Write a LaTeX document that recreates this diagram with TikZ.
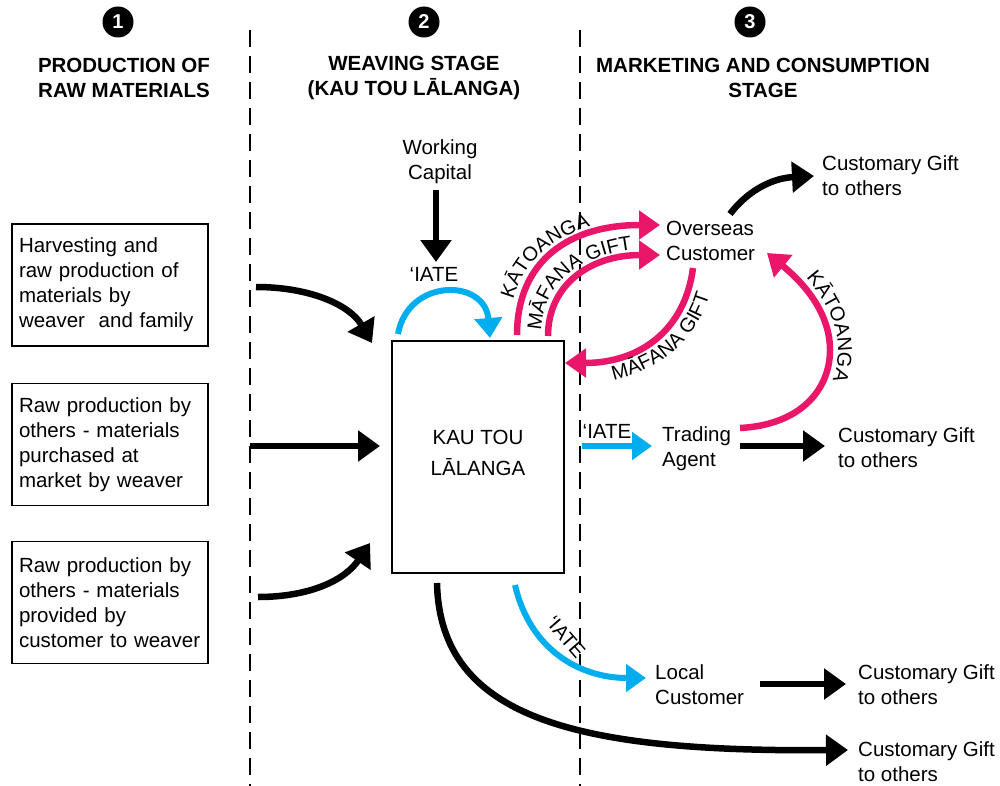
\documentclass[tikz,border=0pt]{standalone}
\usepackage{fontspec}
\setmainfont{Liberation Sans}
\usetikzlibrary{arrows.meta,decorations.text}
\definecolor{pinkc}{RGB}{233,22,106}
\definecolor{bluec}{RGB}{0,174,239}
\newcommand\lblfont{\fontsize{20}{20}\selectfont}
\begin{document}
\begin{tikzpicture}[x=1pt,y=-1pt,
  txt/.style={inner sep=0pt, font=\fontsize{20.5}{25}\selectfont, align=left},
  hdr/.style={inner sep=0pt, font=\bfseries\fontsize{20.5}{25}\selectfont, align=center},
  num/.style={circle, fill=black, minimum size=31pt, inner sep=0pt, text=white, font=\bfseries\fontsize{20}{20}\selectfont},
  srcbox/.style={draw, line width=1.2pt, minimum width=196pt, minimum height=122pt, text width=182pt, inner xsep=7pt, font=\fontsize{20.5}{25}\selectfont, align=left},
  blk/.style={line width=6.5pt, -{Triangle[length=22pt,width=30pt]}},
  blu/.style={draw=bluec, line width=6pt, -{Triangle[length=20pt,width=27pt]}},
  pnk/.style={draw=pinkc, line width=6.5pt, -{Triangle[length=21pt,width=28pt]}},
  sepline/.style={line width=1.5pt, dash pattern=on 17pt off 9pt},
  alongtxt/.style={decorate, decoration={text along path, text={|\lblfont|#1}}},
]
\useasboundingbox (0,0) rectangle (1000,786);

% separators
\draw[sepline] (250,30) -- (250,786);
\draw[sepline] (580,30) -- (580,786);

% stage numbers and headers
\node[num] (n1) at (118,22) {1};
\node[num] (n2) at (424,22) {2};
\node[num] (n3) at (750,22) {3};
\node[hdr] (h1) at (124,78) {PRODUCTION OF\\RAW MATERIALS};
\node[hdr] (h2) at (414,78) {WEAVING STAGE\\(KAU TOU LĀLANGA)};
\node[hdr] (h3) at (763,78) {MARKETING AND CONSUMPTION\\STAGE};

% source boxes
\node[srcbox] (b1) at (110,285) {Harvesting and\\raw production of\\materials by\\weaver~ and family};
\node[srcbox] (b2) at (110,444.5) {Raw production by\\others - materials\\purchased at\\market by weaver};
\node[srcbox] (b3) at (110,602.5) {Raw production by\\others - materials\\provided by\\customer to weaver};

% central box
\node[draw, line width=1.2pt, minimum width=172pt, minimum height=232pt] (K) at (478,457) {};
\node[txt, align=center] (Kt) at (478,453) {KAU TOU\\[6pt]LĀLANGA};

% text nodes
\node[txt, align=center] (WC) at (440,162) {Working\\Capital};
\node[txt, anchor=west] (OC) at (666,240.5) {Overseas\\Customer};
\node[txt, anchor=west] (CG1) at (822,176) {Customary Gift\\to others};
\node[txt, anchor=west] (TA) at (662,449) {Trading\\Agent};
\node[txt, anchor=west] (CG2) at (838,448) {Customary Gift\\to others};
\node[txt, anchor=west] (LC) at (655,685) {Local\\Customer};
\node[txt, anchor=west] (CG3) at (858,685) {Customary Gift\\to others};
\node[txt, anchor=west] (CG4) at (858,762) {Customary Gift\\to others};
\node[txt] (i1) at (434,274) {‘IATE};
\node[txt] (i2) at (607,431) {‘IATE};
\node[txt, font=\lblfont, rotate=-49] (i3) at (566,637) {‘IATE};

% connector end points
\coordinate (wcS) at (436,190);  \coordinate (wcE) at (436,262);
\coordinate (l1S) at (256,287);  \coordinate (l1E) at (372,343);
\coordinate (l2S) at (250,446);  \coordinate (l2E) at (380,446);
\coordinate (l3S) at (258,597);  \coordinate (l3E) at (370,543);
\coordinate (iaS) at (398,334);  \coordinate (iaE) at (490,338);
\coordinate (k1S) at (517,335);  \coordinate (k1E) at (660,225);
\coordinate (m1S) at (548,336);  \coordinate (m1E) at (660,255);
\coordinate (m2S) at (693,268);  \coordinate (m2E) at (565,363);
\coordinate (k2S) at (740,428);  \coordinate (k2E) at (767,253);
\coordinate (g1S) at (730,214);  \coordinate (g1E) at (814,176);
\coordinate (tS) at (582,446);   \coordinate (tE) at (652,446);
\coordinate (g2S) at (740,446);  \coordinate (g2E) at (825,446);
\coordinate (lS) at (515,585);   \coordinate (lE) at (646,678);
\coordinate (g3S) at (760,684);  \coordinate (g3E) at (846,684);
\coordinate (g4S) at (437,583);  \coordinate (g4E) at (848,750);

% black connectors
\draw[blk] (wcS) -- (wcE);
\draw[blk] (l1S) .. controls (310,287) and (350,305) .. (l1E);
\draw[blk] (l2S) -- (l2E);
\draw[blk] (l3S) .. controls (310,597) and (345,580) .. (l3E);
\draw[blk] (g1S) .. controls (750,188) and (775,178) .. (g1E);
\draw[blk] (g2S) -- (g2E);
\draw[blk] (g3S) -- (g3E);
\draw[blk] (g4S) .. controls (440,720) and (580,752) .. (g4E);

% blue connectors
\draw[blu] (iaS) .. controls (408,278) and (485,278) .. (iaE);
\draw[blu] (tS) -- (tE);
\draw[blu] (lS) .. controls (530,650) and (580,678) .. (lE);

% pink connectors
\draw[pnk] (k1S) .. controls (517,260) and (570,225) .. (k1E);
\draw[pnk] (m1S) .. controls (548,285) and (590,255) .. (m1E);
\draw[pnk] (m2S) .. controls (685,330) and (640,363) .. (m2E);
\draw[pnk] (k2S) .. controls (800,425) and (830,390) .. (830,350)
               .. controls (830,310) and (800,280) .. (k2E);

% curved labels
\path[alongtxt={KĀTOANGA}, decoration={text align={left indent=36pt}}]
  (509,335) .. controls (509,254) and (567,218) .. (660,218);
\path[alongtxt={MĀFANA GIFT}, decoration={text align={left indent=5pt}}]
  (541,336) .. controls (541,279) and (586,248) .. (660,248);
\path[alongtxt={MĀFANA GIFT}, decoration={text align={left indent=49pt}}]
  (565,385) .. controls (653,385) and (707,342) .. (715,268);
\path[alongtxt={KĀTOANGA}, decoration={text align={left indent=46pt}}]
  (773,246) .. controls (806,274) and (838,308) .. (838,350)
  .. controls (838,394) and (804,432) .. (741,436);
\end{tikzpicture}
\end{document}
